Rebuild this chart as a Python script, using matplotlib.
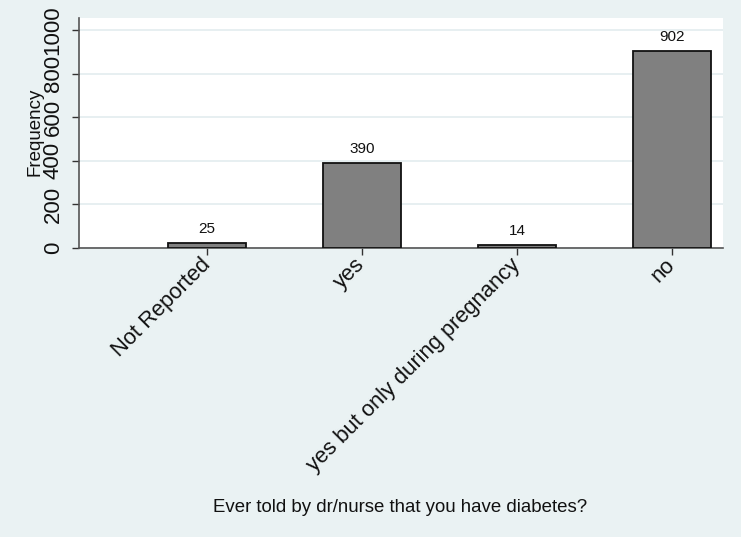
import matplotlib
matplotlib.use("Agg")
import matplotlib.pyplot as plt
import numpy as np

plt.rcParams['font.family'] = ['Liberation Sans', 'DejaVu Sans']

categories = ["Not Reported", "yes", "yes but only during pregnancy", "no"]
counts = [25, 390, 14, 902]
yticks = [0, 200, 400, 600, 800, 1000]

bg = "#EAF2F3"
fig = plt.figure(figsize=(7.41, 5.37), dpi=100, facecolor=bg)
ax = fig.add_axes([79/741, 1-248/537, (723-79)/741, (248-18)/537])
ax.set_facecolor("white")

x = np.arange(len(categories))
ax.bar(x, counts, width=0.5, color="#808080", edgecolor="#111111", linewidth=1.3, zorder=3)
for xi, c in zip(x, counts):
    ax.annotate(str(c), (xi, c), xytext=(0, 5), textcoords="offset points",
                ha="center", va="bottom", fontsize=11, color="#111111")

ax.set_xlim(-0.826, 3.329)
ax.set_ylim(0, 1055)
ax.set_yticks(yticks)
ax.set_yticklabels([str(t) for t in yticks], rotation=90, va="center", fontsize=16)
ax.set_xticks(x)
ax.set_xticklabels(categories, rotation=45, ha="right", va="center",
                   rotation_mode="anchor", fontsize=15.8)
ax.tick_params(axis="both", direction="out", length=5, width=1, color="#333333", labelcolor="#111111")
ax.tick_params(axis="y", pad=6)
ax.tick_params(axis="x", pad=5)
ax.grid(axis="y", color="#E3ECEF", linewidth=1.2, zorder=0)
for s in ["top", "right"]:
    ax.spines[s].set_visible(False)
ax.spines["left"].set_color("#555555")
ax.spines["bottom"].set_color("#555555")
ax.spines["left"].set_linewidth(1.2)
ax.spines["bottom"].set_linewidth(1.2)

ax.set_ylabel("")
fig.text(35/741, 1-132/537, "Frequency", rotation=90, ha="center", va="center",
         fontsize=13.5, color="#111111")
fig.text(400/741, 1-507/537, "Ever told by dr/nurse that you have diabetes?",
         ha="center", va="center", fontsize=13.4, color="#111111")

fig.savefig("out.png", dpi=100, facecolor=bg)
